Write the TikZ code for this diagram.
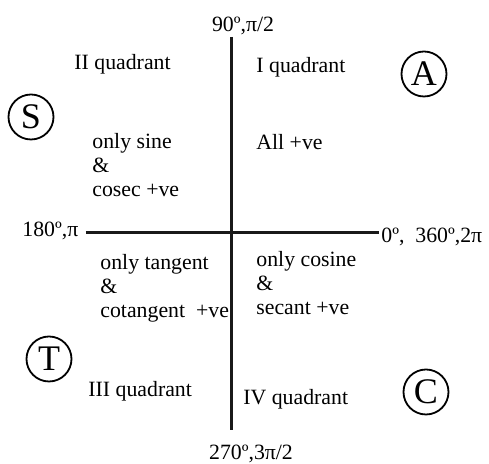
\documentclass[tikz,border=0pt]{standalone}
\usepackage{fontspec}
\setmainfont{Liberation Serif}
\begin{document}
\begin{tikzpicture}[x=0.5pt, y=-0.5pt,
  trigaxis/.style = {line width=1.5pt, black!90},
  triglbl/.style = {font=\fontsize{10.9}{12.2}\selectfont, inner sep=0pt, align=left},
  trigsign/.style = {circle, draw, line width=0.9pt, minimum size=22.5pt, inner sep=0pt,
                     font=\fontsize{18}{18}\selectfont}
]
  \useasboundingbox (0,0) rectangle (489,464);
  % axes
  \coordinate (top) at (232,37);
  \coordinate (bot) at (232,430);
  \coordinate (left) at (86,233);
  \coordinate (right) at (379,233);
  \draw[trigaxis] (top) -- (bot);
  \draw[trigaxis] (left) -- (right);
  % angle labels at the axis ends
  \node[triglbl, anchor=base] (lbl90) at (243,32) {90º,π/2};
  \node[triglbl, anchor=base west] (lbl180) at (22,237) {180º,π};
  \node[triglbl, anchor=base west] (lbl0) at (381,243) {0º,\ \ 360º,2π};
  \node[triglbl, anchor=base] (lbl270) at (251,460) {270º,3π/2};
  % I quadrant
  \node[triglbl, anchor=base west] (q1) at (256,73) {I quadrant};
  \node[triglbl, anchor=base west] (all) at (256,150) {All +ve};
  \node[trigsign] (signA) at (424,74) {A};
  % II quadrant
  \node[triglbl, anchor=base west] (q2) at (74,70) {II quadrant};
  \node[trigsign] (signS) at (31,117) {S};
  \node[triglbl, anchor=base west] (sine) at (92,197) {only sine\\\&\\cosec +ve};
  % III quadrant
  \node[triglbl, anchor=base west] (tang) at (100,318) {only tangent\\\&\\cotangent\ \ +ve};
  \node[trigsign] (signT) at (49,359) {T};
  \node[triglbl, anchor=base west] (q3) at (88,397) {III quadrant};
  % IV quadrant
  \node[triglbl, anchor=base west] (cosine) at (256,315) {only cosine\\\&\\secant +ve};
  \node[triglbl, anchor=base west] (q4) at (243,405) {IV quadrant};
  \node[trigsign] (signC) at (426,392) {C};
\end{tikzpicture}
\end{document}
